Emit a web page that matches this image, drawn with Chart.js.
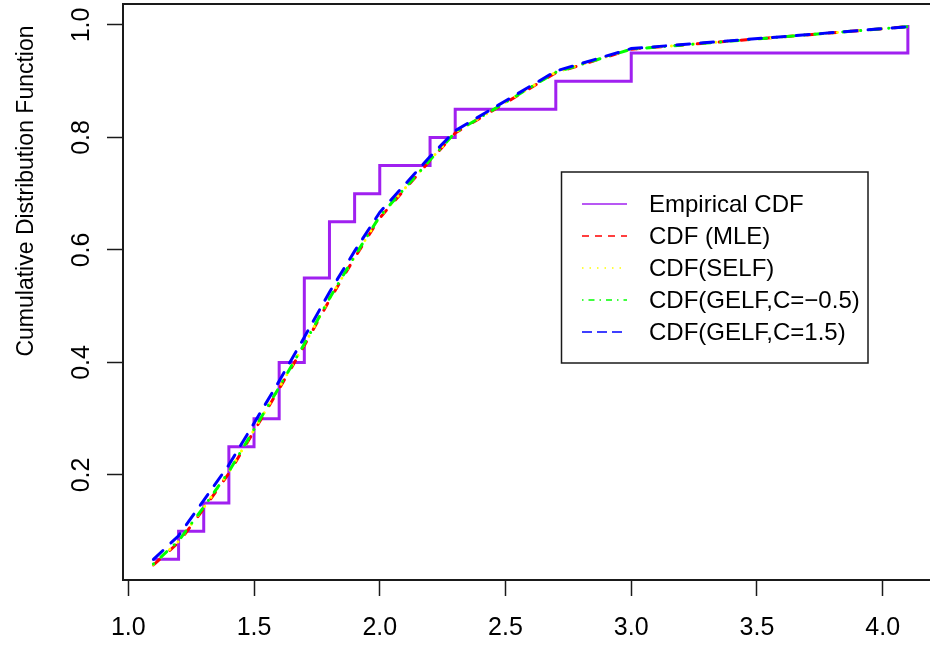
<!DOCTYPE html>
<html>
<head>
<meta charset="utf-8">
<script src="https://cdn.jsdelivr.net/npm/chart.js@4"></script>
<style>
  html, body { margin: 0; padding: 0; background: #fff; }
  #wrap { width: 930px; height: 651px; }
</style>
</head>
<body>
<div id="wrap"><canvas id="myChart" width="930" height="651"></canvas></div>
<script>
// sorted sample values (x) and the CDF estimates
const xVals = [1.1, 1.2, 1.3, 1.4, 1.5, 1.6, 1.7, 1.8, 1.9, 2.0, 2.2, 2.3, 2.7, 3.0, 4.1];
const empiricalCdf = [0.05, 0.10, 0.15, 0.25, 0.30, 0.40, 0.55, 0.65, 0.70, 0.75, 0.80, 0.85, 0.90, 0.95, 1.00];
const cdfMLE   = [0.040, 0.080, 0.140, 0.203, 0.278, 0.353, 0.430, 0.511, 0.586, 0.657, 0.759, 0.808, 0.915, 0.957, 0.997];
const cdfSELF  = [0.041, 0.082, 0.142, 0.205, 0.280, 0.355, 0.432, 0.513, 0.588, 0.659, 0.760, 0.809, 0.916, 0.957, 0.997];
const cdfGELFm = [0.042, 0.083, 0.143, 0.206, 0.281, 0.356, 0.433, 0.514, 0.589, 0.660, 0.760, 0.809, 0.916, 0.957, 0.997];
const cdfGELFp = [0.050, 0.092, 0.155, 0.218, 0.292, 0.367, 0.445, 0.525, 0.598, 0.667, 0.766, 0.812, 0.918, 0.958, 0.997];

const seriesLabels = ['Empirical CDF', 'CDF (MLE)', 'CDF(SELF)', 'CDF(GELF,C=\u22120.5)', 'CDF(GELF,C=1.5)'];
const xTicks = [1.0, 1.5, 2.0, 2.5, 3.0, 3.5, 4.0];
const yTicks = [0.2, 0.4, 0.6, 0.8, 1.0];
const yTitle = 'Cumulative Distribution Function';

const FONT = '"Liberation Sans", Arial, sans-serif';

function toPoints(ys) {
    return xVals.map((x, i) => ({ x: x, y: ys[i] }));
}

// legend sample dashes are thinner and shorter than the plot lines
const legendDash = [[], [7, 6], [1.5, 6], [1.5, 5, 6, 5], [10, 5]];

const datasets = [
    {
        label: seriesLabels[0],
        data: toPoints(empiricalCdf),
        borderColor: '#A020F0',
        borderWidth: 3,
        stepped: true,
        order: 5
    },
    {
        label: seriesLabels[1],
        data: toPoints(cdfMLE),
        borderColor: '#FF0000',
        borderWidth: 3,
        borderDash: [8, 14],
        borderCapStyle: 'round',
        order: 4
    },
    {
        label: seriesLabels[2],
        data: toPoints(cdfSELF),
        borderColor: '#FFFF00',
        borderWidth: 3,
        borderDash: [0.1, 11],
        borderCapStyle: 'round',
        order: 3
    },
    {
        label: seriesLabels[3],
        data: toPoints(cdfGELFm),
        borderColor: '#00FF00',
        borderWidth: 3,
        borderDash: [0.1, 10, 8, 10],
        borderCapStyle: 'round',
        order: 2
    },
    {
        label: seriesLabels[4],
        data: toPoints(cdfGELFp),
        borderColor: '#0000FF',
        borderWidth: 3,
        borderDash: [13, 11],
        borderCapStyle: 'round',
        order: 1
    }
];

// box, rotated y labels, y title and the boxed legend, R style
const rDecor = {
    id: 'rDecor',
    beforeDatasetsDraw(chart) {
        const ctx = chart.ctx;
        const a = chart.chartArea;
        ctx.save();
        ctx.strokeStyle = '#1a1a1a';
        ctx.lineWidth = 2;
        ctx.beginPath();
        ctx.moveTo(a.right + 10, a.top);
        ctx.lineTo(a.left, a.top);
        ctx.lineTo(a.left, a.bottom);
        ctx.lineTo(a.right + 10, a.bottom);
        ctx.stroke();
        ctx.restore();
    },
    afterDraw(chart) {
        const ctx = chart.ctx;
        const ys = chart.scales.y;
        ctx.save();
        ctx.fillStyle = '#000';

        // y tick labels, parallel to the axis
        ctx.font = '25px ' + FONT;
        ctx.textAlign = 'center';
        ctx.textBaseline = 'alphabetic';
        yTicks.forEach(v => {
            ctx.save();
            ctx.translate(89, ys.getPixelForValue(v));
            ctx.rotate(-Math.PI / 2);
            ctx.fillText(v.toFixed(1), 0, 0);
            ctx.restore();
        });

        // y axis title
        ctx.font = '23px ' + FONT;
        ctx.save();
        ctx.translate(33, 191);
        ctx.rotate(-Math.PI / 2);
        ctx.fillText(yTitle, 0, 0);
        ctx.restore();

        // legend
        const bx = 561.5, by = 172, bw = 306.5, bh = 191;
        ctx.fillStyle = '#fff';
        ctx.fillRect(bx, by, bw, bh);
        ctx.strokeStyle = '#1a1a1a';
        ctx.lineWidth = 1.5;
        ctx.strokeRect(bx, by, bw, bh);
        ctx.font = '24px ' + FONT;
        ctx.textAlign = 'left';
        ctx.textBaseline = 'middle';
        chart.data.datasets.forEach((ds, i) => {
            const rowY = 204 + i * 32;
            ctx.strokeStyle = ds.borderColor;
            ctx.lineWidth = 1.5;
            ctx.setLineDash(legendDash[i]);
            ctx.beginPath();
            ctx.moveTo(582, rowY);
            ctx.lineTo(627, rowY);
            ctx.stroke();
            ctx.setLineDash([]);
            ctx.fillStyle = '#000';
            ctx.fillText(ds.label, 649, rowY + 1);
        });
        ctx.restore();
    }
};

const config = {
    type: 'line',
    data: { datasets: datasets },
    options: {
        responsive: false,
        animation: false,
        layout: { padding: { top: 4, left: 0, right: 0, bottom: 0 } },
        elements: {
            point: { radius: 0 },
            line: { tension: 0 }
        },
        scales: {
            x: {
                type: 'linear',
                min: 0.979,
                max: 4.188,
                afterFit: s => { s.height = 71; },
                afterBuildTicks: s => { s.ticks = xTicks.map(v => ({ value: v })); },
                border: { display: false },
                grid: {
                    drawOnChartArea: false,
                    drawTicks: true,
                    tickLength: 16,
                    tickColor: '#1a1a1a',
                    tickWidth: 1.5
                },
                ticks: {
                    color: '#000',
                    padding: 17,
                    maxRotation: 0,
                    autoSkip: false,
                    font: { family: FONT, size: 25 },
                    callback: v => Number(v).toFixed(1)
                }
            },
            y: {
                min: 0.01333,
                max: 1.0373,
                afterFit: s => { s.width = 123; },
                afterBuildTicks: s => { s.ticks = yTicks.map(v => ({ value: v })); },
                border: { display: false },
                grid: {
                    drawOnChartArea: false,
                    drawTicks: true,
                    tickLength: 16,
                    tickColor: '#1a1a1a',
                    tickWidth: 1.5
                },
                ticks: { display: false }
            }
        },
        plugins: {
            legend: { display: false },
            tooltip: { enabled: false }
        }
    },
    plugins: [rDecor]
};

new Chart(document.getElementById('myChart'), config);
</script>
</body>
</html>
